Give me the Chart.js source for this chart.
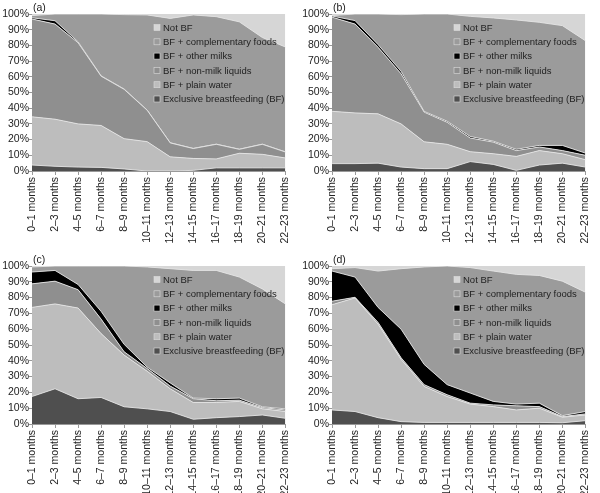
<!DOCTYPE html>
<html>
<head>
<meta charset="utf-8">
<script src="https://cdn.jsdelivr.net/npm/chart.js@4"></script>
<style>
html, body { margin: 0; padding: 0; background: #fff; }
#wrap { position: relative; width: 600px; height: 493px; overflow: hidden; }
.panel { position: absolute; }
.panel canvas { display: block; }
</style>
</head>
<body>
<div id="wrap">
    <div class="panel" style="left:0;top:0;"><canvas id="chartA" width="300" height="250"></canvas></div>
    <div class="panel" style="left:300px;top:0;"><canvas id="chartB" width="300" height="250"></canvas></div>
    <div class="panel" style="left:0;top:250px;"><canvas id="chartC" width="300" height="243"></canvas></div>
    <div class="panel" style="left:300px;top:250px;"><canvas id="chartD" width="300" height="243"></canvas></div>
</div>
<script>
// Age groups
const months = ['0–1 months', '2–3 months', '4–5 months', '6–7 months', '8–9 months', '10–11 months',
    '12–13 months', '14–15 months', '16–17 months', '18–19 months', '20–21 months', '22–23 months'];

const seriesLabels = ['Exclusive breastfeeding (BF)', 'BF + plain water', 'BF + non-milk liquids',
    'BF + other milks', 'BF + complementary foods', 'Not BF'];

// (a)
const aExclusive = [3.8, 3.0, 2.5, 2.3, 1.3, 0.0, 0.0, 0.4, 2.0, 2.0, 2.0, 2.0];
const aWater = [30.7, 30.0, 27.5, 26.7, 19.3, 18.7, 9.0, 7.6, 5.7, 9.3, 8.6, 6.3];
const aNonMilk = [62.3, 60.6, 51.7, 31.4, 31.4, 20.0, 8.9, 6.3, 9.3, 2.5, 6.4, 3.8];
const aOtherMilks = [0.8, 2.1, 0.6, 0.2, 0.2, 0.1, 0.1, 0.1, 0.1, 0.1, 0.1, 0.1];
const aComplementary = [1.4, 4.3, 17.7, 39.4, 47.4, 60.6, 79.2, 85.0, 81.2, 81.1, 67.9, 66.8];
const aNotBF = [1.0, 0.0, 0.0, 0.0, 0.4, 0.6, 2.8, 0.6, 1.7, 5.0, 15.0, 21.0];

// (b)
const bExclusive = [4.7, 4.7, 5.0, 2.5, 1.5, 1.5, 6.0, 4.2, 0.4, 3.8, 5.0, 2.5];
const bWater = [33.3, 32.3, 31.4, 27.5, 17.1, 15.5, 6.3, 6.8, 8.9, 9.2, 6.0, 4.7];
const bNonMilk = [60.0, 56.6, 42.4, 31.9, 18.9, 14.0, 8.7, 7.4, 3.7, 2.3, 2.0, 2.8];
const bOtherMilks = [0.7, 2.2, 1.7, 1.6, 0.5, 0.7, 1.0, 0.6, 0.8, 1.0, 3.3, 1.4];
const bComplementary = [0.3, 4.2, 19.5, 36.1, 62.0, 68.3, 76.5, 78.5, 82.4, 78.4, 76.3, 71.6];
const bNotBF = [1.0, 0.0, 0.0, 0.4, 0.0, 0.0, 1.5, 2.5, 3.8, 5.3, 7.4, 17.0];

// (c)
const cExclusive = [17.4, 22.3, 16.0, 16.8, 10.9, 9.6, 7.9, 3.0, 4.0, 4.7, 5.7, 3.6];
const cWater = [56.4, 53.7, 57.4, 40.4, 32.7, 23.8, 14.4, 10.6, 9.6, 9.6, 3.9, 4.3];
const cNonMilk = [14.9, 14.4, 11.6, 9.2, 2.1, 1.7, 1.7, 2.4, 1.1, 0.8, 0.8, 1.0];
const cOtherMilks = [7.5, 6.8, 3.3, 4.9, 4.7, 0.9, 2.0, 0.4, 1.3, 1.3, 0.5, 0.7];
const cComplementary = [3.2, 2.8, 11.7, 28.7, 49.6, 63.4, 72.3, 80.8, 81.2, 76.6, 74.6, 66.4];
const cNotBF = [0.6, 0.0, 0.0, 0.0, 0.0, 0.6, 1.7, 2.8, 2.8, 7.0, 14.5, 24.0];

// (d)
const dExclusive = [8.9, 7.9, 4.0, 1.5, 1.0, 1.0, 1.0, 1.0, 1.0, 1.0, 0.8, 2.1];
const dWater = [66.6, 71.9, 59.2, 39.4, 22.8, 16.4, 11.6, 10.0, 7.9, 9.0, 3.5, 3.6];
const dNonMilk = [2.2, 0.4, 1.1, 1.0, 1.1, 1.1, 0.6, 1.1, 2.6, 1.0, 0.4, 0.7];
const dOtherMilks = [19.1, 12.8, 9.5, 18.1, 12.8, 6.4, 6.4, 2.2, 1.1, 2.2, 0.6, 1.5];
const dComplementary = [1.5, 6.0, 23.0, 38.3, 61.7, 75.1, 79.4, 82.5, 82.1, 80.8, 85.1, 75.5];
const dNotBF = [1.7, 1.0, 3.2, 1.7, 0.6, 0.0, 1.0, 3.2, 5.3, 6.0, 9.6, 16.6];

const fills = ['#4f4f4f', '#bdbdbd', '#8f8f8f', '#000000', '#9b9b9b', '#d6d6d6'];
const FONT = '"Liberation Sans", Arial, sans-serif';

// panel tag "(a)" and legend drawn inside the plot area
const panelDecor = {
    id: 'panelDecor',
    afterDraw(chart, args, opts) {
        const ctx = chart.ctx;
        const area = chart.chartArea;
        ctx.save();
        ctx.fillStyle = '#222';
        ctx.font = '10.5px ' + FONT;
        ctx.textBaseline = 'alphabetic';
        ctx.fillText(opts.tag, area.left + 1, area.top - 3);

        ctx.font = '9.5px ' + FONT;
        ctx.textBaseline = 'middle';
        const items = chart.data.datasets.slice().reverse();
        items.forEach((ds, i) => {
            const y = area.top + 13.5 + i * 14.3;
            const x = area.left + 122;
            ctx.fillStyle = ds.backgroundColor;
            ctx.fillRect(x, y - 3, 6, 6);
            ctx.strokeStyle = '#dcdcdc';
            ctx.lineWidth = 0.6;
            ctx.strokeRect(x, y - 3, 6, 6);
            ctx.fillStyle = '#222';
            ctx.fillText(ds.label, x + 9, y + 0.5);
        });
        ctx.restore();
    }
};

function makeChart(id, tag, series, top) {
    const datasets = series.map((values, i) => ({
        label: seriesLabels[i],
        data: values,
        backgroundColor: fills[i],
        borderColor: '#e4e4e4',
        borderWidth: i === 5 ? 0 : 0.9,
        fill: i === 0 ? 'origin' : '-1',
        pointRadius: 0,
        tension: 0
    }));
    const axisHeight = top ? 79 : 69;
    return new Chart(document.getElementById(id), {
        type: 'line',
        data: { labels: months, datasets: datasets },
        plugins: [panelDecor],
        options: {
            responsive: false,
            animation: false,
            layout: { padding: { top: top ? 14 : 16, right: 6, left: 0, bottom: 0 } },
            plugins: {
                legend: { display: false },
                tooltip: { enabled: false },
                panelDecor: { tag: tag }
            },
            scales: {
                x: {
                    offset: false,
                    grid: { drawOnChartArea: false, drawTicks: true, tickLength: 4, color: '#999' },
                    border: { color: '#999' },
                    ticks: {
                        autoSkip: false, minRotation: 90, maxRotation: 90, padding: 2,
                        color: '#222', font: { family: FONT, size: 10.5 }
                    },
                    afterFit(scale) { scale.height = axisHeight; }
                },
                y: {
                    stacked: true,
                    min: 0,
                    max: 100,
                    grid: { drawOnChartArea: false, drawTicks: true, tickLength: 3, color: '#999' },
                    border: { color: '#999' },
                    ticks: {
                        stepSize: 10, padding: 0, color: '#222',
                        font: { family: FONT, size: 10.5 },
                        callback: v => v + '%'
                    },
                    afterFit(scale) { scale.width = 32; }
                }
            }
        }
    });
}

makeChart('chartA', '(a)', [aExclusive, aWater, aNonMilk, aOtherMilks, aComplementary, aNotBF], true);
makeChart('chartB', '(b)', [bExclusive, bWater, bNonMilk, bOtherMilks, bComplementary, bNotBF], true);
makeChart('chartC', '(c)', [cExclusive, cWater, cNonMilk, cOtherMilks, cComplementary, cNotBF], false);
makeChart('chartD', '(d)', [dExclusive, dWater, dNonMilk, dOtherMilks, dComplementary, dNotBF], false);
</script>
</body>
</html>
